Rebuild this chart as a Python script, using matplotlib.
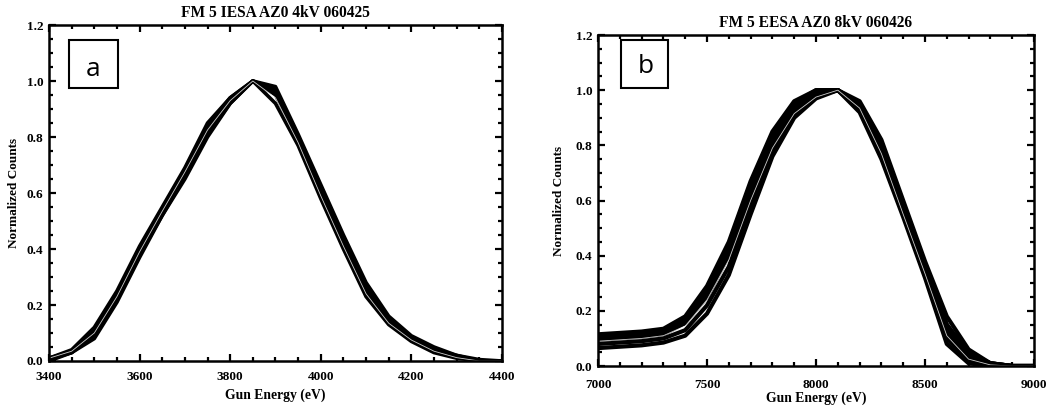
import matplotlib.pyplot as plt
from matplotlib.patches import Rectangle
from matplotlib.ticker import MultipleLocator

# Panel a: FM 5 IESA, energies in eV
energia_a = [3400, 3450, 3500, 3550, 3600, 3650, 3700, 3750, 3800, 3850, 3900,
             3950, 4000, 4050, 4100, 4150, 4200, 4250, 4300, 4350, 4400]
curvas_a = [
    [0.01, 0.04, 0.12, 0.25, 0.41, 0.55, 0.69, 0.85, 0.94, 1.00, 0.92, 0.77, 0.58, 0.40, 0.23, 0.13, 0.07, 0.03, 0.010, 0.000, 0.00],
    [0.01, 0.03, 0.10, 0.23, 0.39, 0.53, 0.67, 0.83, 0.93, 1.00, 0.95, 0.79, 0.60, 0.42, 0.25, 0.14, 0.08, 0.04, 0.015, 0.000, 0.00],
    [0.00, 0.03, 0.08, 0.21, 0.37, 0.52, 0.65, 0.80, 0.92, 1.00, 0.98, 0.81, 0.63, 0.45, 0.28, 0.16, 0.09, 0.05, 0.020, 0.005, 0.00],
    [0.01, 0.035, 0.11, 0.24, 0.40, 0.54, 0.68, 0.84, 0.94, 1.00, 0.97, 0.80, 0.62, 0.44, 0.27, 0.15, 0.08, 0.04, 0.020, 0.000, 0.00],
    [0.005, 0.03, 0.09, 0.22, 0.38, 0.52, 0.66, 0.81, 0.92, 1.00, 0.96, 0.80, 0.61, 0.43, 0.26, 0.15, 0.085, 0.045, 0.015, 0.000, 0.00],
]
curva_blanca_a = [0.01, 0.035, 0.10, 0.23, 0.39, 0.535, 0.675, 0.825, 0.93, 1.00, 0.94, 0.78, 0.59, 0.41, 0.24, 0.135, 0.075, 0.035, 0.012, 0.0, 0.0]

# Panel b: FM 5 EESA
energia_b = [7000, 7100, 7200, 7300, 7400, 7500, 7600, 7700, 7800, 7900, 8000,
             8100, 8200, 8300, 8400, 8500, 8600, 8700, 8800, 8900, 9000]
curvas_b = [
    [0.115, 0.12, 0.125, 0.135, 0.18, 0.29, 0.45, 0.67, 0.85, 0.96, 1.00, 1.00, 0.96, 0.82, 0.60, 0.38, 0.18, 0.06, 0.010, 0.0, 0.0],
    [0.11, 0.115, 0.12, 0.13, 0.17, 0.28, 0.43, 0.65, 0.83, 0.95, 1.00, 1.00, 0.95, 0.80, 0.58, 0.36, 0.15, 0.04, 0.010, 0.0, 0.0],
    [0.10, 0.105, 0.11, 0.12, 0.16, 0.26, 0.41, 0.62, 0.81, 0.93, 0.99, 1.00, 0.94, 0.78, 0.56, 0.34, 0.12, 0.03, 0.005, 0.0, 0.0],
    [0.105, 0.11, 0.115, 0.125, 0.165, 0.27, 0.42, 0.63, 0.82, 0.94, 0.995, 1.00, 0.93, 0.76, 0.55, 0.33, 0.10, 0.02, 0.005, 0.0, 0.0],
    [0.095, 0.10, 0.105, 0.115, 0.155, 0.25, 0.40, 0.61, 0.80, 0.92, 0.98, 1.00, 0.92, 0.75, 0.54, 0.32, 0.08, 0.01, 0.000, 0.0, 0.0],
    [0.08, 0.085, 0.09, 0.10, 0.13, 0.22, 0.36, 0.58, 0.78, 0.91, 0.98, 1.00, 0.94, 0.79, 0.57, 0.35, 0.14, 0.04, 0.010, 0.0, 0.0],
    [0.065, 0.07, 0.075, 0.085, 0.11, 0.19, 0.33, 0.55, 0.76, 0.90, 0.97, 1.00, 0.95, 0.80, 0.58, 0.35, 0.15, 0.05, 0.010, 0.0, 0.0],
]
curva_blanca_b = [0.09, 0.095, 0.10, 0.11, 0.145, 0.24, 0.385, 0.60, 0.79, 0.915, 0.975, 1.00, 0.935, 0.77, 0.55, 0.335, 0.11, 0.025, 0.004, 0.0, 0.0]

fuente = 'Liberation Serif'

fig = plt.figure(figsize=(10.63, 4.08), dpi=100)
ax_a = fig.add_axes([0.0461, 0.1152, 0.4261, 0.8235])
ax_b = fig.add_axes([0.5626, 0.1029, 0.4101, 0.8113])


def preparar_ejes(ax, titulo, xlim, xmayor, xmenor, xpad, ylabpad, xlabpad):
    ax.set_xlim(*xlim)
    ax.set_ylim(0, 1.2)
    ax.xaxis.set_major_locator(MultipleLocator(xmayor))
    ax.xaxis.set_minor_locator(MultipleLocator(xmenor))
    ax.yaxis.set_major_locator(MultipleLocator(0.2))
    ax.yaxis.set_minor_locator(MultipleLocator(0.05))
    ax.tick_params(which='both', direction='in', top=True, right=True, width=1.6)
    ax.tick_params(which='major', length=5)
    ax.tick_params(which='minor', length=3)
    ax.tick_params(axis='x', pad=xpad)
    ax.tick_params(axis='y', pad=4)
    for s in ax.spines.values():
        s.set_linewidth(1.8)
    ax.set_yticks(ax.get_yticks())
    ax.set_yticklabels([f"{v:.1f}" for v in ax.get_yticks()], family=fuente,
                       weight='bold', fontsize=9.5)
    ax.set_xticks(ax.get_xticks())
    ax.set_xticklabels([f"{int(v)}" for v in ax.get_xticks()], family=fuente,
                       weight='bold', fontsize=9.5)
    ax.set_ylim(0, 1.2)
    ax.set_xlim(*xlim)
    ax.set_title(titulo, family=fuente, weight='bold', fontsize=11.2, pad=6)
    ax.set_xlabel("Gun Energy (eV)", family=fuente, weight='bold', fontsize=9.8, labelpad=xlabpad)
    ax.set_ylabel("Normalized Counts", family=fuente, weight='bold', fontsize=9.5, labelpad=ylabpad)


# Panel a
for c in curvas_a:
    ax_a.plot(energia_a, c, color='black', linewidth=2.6)
ax_a.plot(energia_a, curva_blanca_a, color='white', linewidth=0.6, alpha=0.8)
preparar_ejes(ax_a, "FM 5 IESA AZ0 4kV 060425", (3400, 4400), 200, 50, 7, 5, 4)
ax_a.add_patch(Rectangle((0.044, 0.8125), 0.108, 0.1425, transform=ax_a.transAxes,
                         fill=False, edgecolor='black', linewidth=1.5))
ax_a.text(0.098, 0.868, "a", transform=ax_a.transAxes, ha='center', va='center',
          family='Open Sans', fontsize=19)

# Panel b
for c in curvas_b:
    ax_b.plot(energia_b, c, color='black', linewidth=3.0)
ax_b.plot(energia_b, curva_blanca_b, color='white', linewidth=0.6, alpha=0.8)
preparar_ejes(ax_b, "FM 5 EESA AZ0 8kV 060426", (7000, 9000), 500, 100, 9, 8, 1)
ax_b.add_patch(Rectangle((0.053, 0.84), 0.108, 0.145, transform=ax_b.transAxes,
                         fill=False, edgecolor='black', linewidth=1.5))
ax_b.text(0.11, 0.905, "b", transform=ax_b.transAxes, ha='center', va='center',
          family='Open Sans', fontsize=19)

fig.savefig("out.png", dpi=100)
